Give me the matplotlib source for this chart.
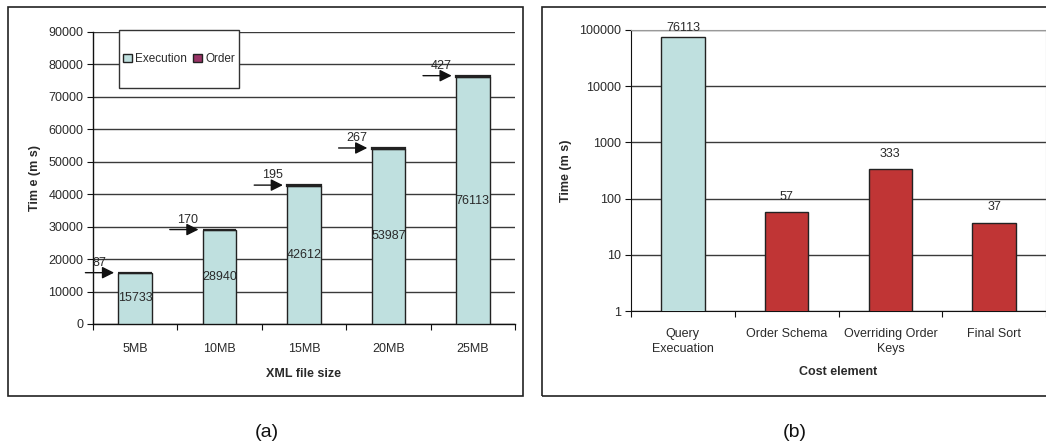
import matplotlib
matplotlib.use("Agg")
import matplotlib.pyplot as plt
from matplotlib.patches import Rectangle
from matplotlib.ticker import FixedLocator, NullFormatter
import numpy as np

plt.rcParams["font.family"] = ["Liberation Sans", "DejaVu Sans"]

# (a) execution vs. ordering time per XML file size
sizes = ["5MB", "10MB", "15MB", "20MB", "25MB"]
execution = [15733, 28940, 42612, 53987, 76113]
order = [87, 170, 195, 267, 427]
y_ticks_a = [0, 10000, 20000, 30000, 40000, 50000, 60000, 70000, 80000, 90000]

# (b) cost breakdown for the 25MB file
cost_elements = ["Query\nExecuation", "Order Schema", "Overriding Order\nKeys", "Final Sort"]
cost_values = [76113, 57, 333, 37]
y_ticks_b = [1, 10, 100, 1000, 10000, 100000]

TEXT = "#2a2a2a"
CYAN = "#BFE0DF"
MAGENTA = "#993366"
RED = "#C03535"
GRID = "#3a3a3a"
FS = 9

W, H = 1046, 448
fig = plt.figure(figsize=(W / 100, H / 100), dpi=100)


def px_axes(x0, y0, x1, y1):
    return fig.add_axes([x0 / W, (H - y1) / H, (x1 - x0) / W, (y1 - y0) / H])


# panel frames
for (x0, y0, x1, y1) in [(8, 7, 523, 396), (542, 7, 1052, 396)]:
    fig.patches.append(Rectangle((x0 / W, (H - y1) / H), (x1 - x0) / W, (y1 - y0) / H,
                                 transform=fig.transFigure, fill=False,
                                 edgecolor="#222222", linewidth=1.2))

# ---------------- (a) ----------------
ax = px_axes(93, 32, 515, 324)
x = np.arange(len(sizes))
bw = 0.4
ax.bar(x, execution, bw, color=CYAN, edgecolor="#222222", linewidth=1.0, zorder=3,
       label="Execution")
ax.bar(x, order, bw, bottom=execution, color=MAGENTA, edgecolor="#222222",
       linewidth=1.6, zorder=3, label="Order")
ax.set_xlim(-0.5, len(sizes) - 0.5)
ax.set_ylim(0, 90000)
ax.yaxis.set_major_locator(FixedLocator(y_ticks_a))
ax.set_yticklabels([str(v) for v in y_ticks_a])
ax.grid(axis="y", color=GRID, linewidth=1.0, zorder=0)
ax.set_axisbelow(True)
for s in ["top", "right"]:
    ax.spines[s].set_visible(False)
for s in ["left", "bottom"]:
    ax.spines[s].set_color("#111111")
    ax.spines[s].set_linewidth(1.0)
ax.set_xticks(np.arange(-0.5, len(sizes)), minor=False)
ax.xaxis.set_major_formatter(NullFormatter())
ax.set_xticks(x, minor=True)
ax.set_xticklabels(sizes, minor=True)
ax.tick_params(axis="x", which="major", length=4, color="#111111")
ax.tick_params(axis="x", which="minor", length=0, pad=14, labelsize=FS, labelcolor=TEXT)
ax.tick_params(axis="y", length=4, color="#111111", labelsize=FS, labelcolor=TEXT, pad=3)
ax.set_xlabel("XML file size", fontsize=FS, fontweight="bold", color=TEXT, labelpad=9)
ax.set_ylabel("Tim e (m s)", fontsize=FS, fontweight="bold", color=TEXT, labelpad=5)

for xi, e, o in zip(x, execution, order):
    ax.text(xi, e / 2, str(e), ha="center", va="center", fontsize=FS, color=TEXT, zorder=4)
    top = e + o
    ax.annotate("", xy=(xi - 0.25, top), xytext=(xi - 0.59, top),
                arrowprops=dict(arrowstyle="-|>", color="#111111", lw=1.0,
                                mutation_scale=18, shrinkA=0, shrinkB=0),
                zorder=5, annotation_clip=False)
    ax.annotate(str(o), xy=(xi - 0.5, top), xytext=(0, 7), textcoords="offset points",
                ha="left", va="center", fontsize=FS, color=TEXT, zorder=5,
                annotation_clip=False)

# legend box
ax.add_patch(Rectangle(((119 - 93) / 422, (324 - 88) / 292), 120 / 422, 58 / 292,
                       transform=ax.transAxes, facecolor="white", edgecolor="#333333",
                       linewidth=1.0, zorder=6, clip_on=False))
leg = ax.legend(loc="center", bbox_to_anchor=((119 + 60 - 93) / 422, (324 - 59) / 292),
                ncol=2, frameon=False, fontsize=8.5, handlelength=0.75, handleheight=0.75,
                handletextpad=0.25, columnspacing=0.55, borderaxespad=0, borderpad=0)
leg.set_zorder(7)
for t in leg.get_texts():
    t.set_color(TEXT)
for h in leg.legend_handles:
    h.set_linewidth(1.0)

# ---------------- (b) ----------------
bx = px_axes(631, 30, 1046, 311)
xb = np.arange(len(cost_elements))
colors_b = [CYAN] + [RED] * (len(cost_elements) - 1)
bx.bar(xb, cost_values, 0.42, color=colors_b, edgecolor="#222222", linewidth=1.0, zorder=3)
bx.set_yscale("log")
bx.set_ylim(1, 100000)
bx.set_xlim(-0.5, len(cost_elements) - 0.5)
bx.yaxis.set_major_locator(FixedLocator(y_ticks_b))
bx.yaxis.set_minor_locator(FixedLocator([]))
bx.set_yticklabels([str(v) for v in y_ticks_b])
bx.grid(axis="y", color=GRID, linewidth=1.0, zorder=0)
bx.set_axisbelow(True)
bx.spines["top"].set_color("#999999")
bx.spines["right"].set_color("#999999")
bx.spines["left"].set_color("#111111")
bx.spines["bottom"].set_color("#111111")
bx.set_xticks(np.arange(-0.5, len(cost_elements)), minor=False)
bx.xaxis.set_major_formatter(NullFormatter())
bx.set_xticks(xb, minor=True)
bx.set_xticklabels(cost_elements, minor=True, linespacing=1.35)
bx.tick_params(axis="x", which="major", length=4, color="#111111")
bx.tick_params(axis="x", which="minor", length=0, pad=12, labelsize=FS, labelcolor=TEXT)
bx.tick_params(axis="y", length=4, color="#111111", labelsize=FS, labelcolor=TEXT, pad=3)
bx.set_xlabel("Cost element", fontsize=FS, fontweight="bold", color=TEXT, labelpad=8)
bx.set_ylabel("Time (m s)", fontsize=FS, fontweight="bold", color=TEXT, labelpad=5)
for xi, v in zip(xb, cost_values):
    off = 2 if v > 10000 else 7
    bx.annotate(str(v), xy=(xi, v), xytext=(0, off), textcoords="offset points",
                ha="center", va="bottom", fontsize=FS, color=TEXT, annotation_clip=False)

# panel captions
fig.text(267 / W, 1 - 432 / H, "(a)", ha="center", va="center", fontsize=14, color="#111111")
fig.text(795 / W, 1 - 432 / H, "(b)", ha="center", va="center", fontsize=14, color="#111111")

fig.savefig("out.png", dpi=100, facecolor="white")
